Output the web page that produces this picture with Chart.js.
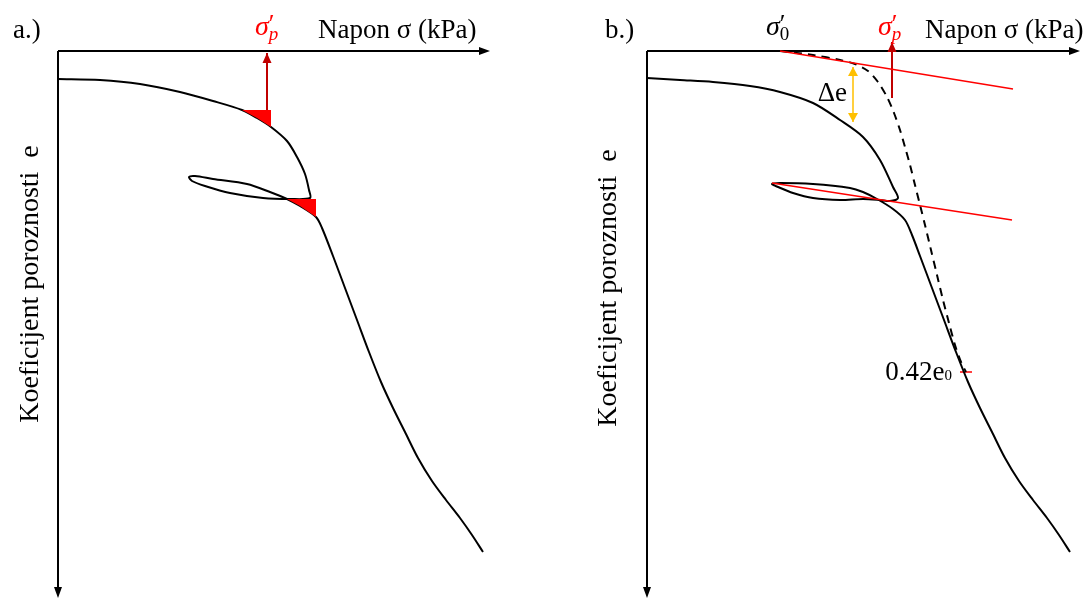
<!DOCTYPE html>
<html>
<head>
<meta charset="utf-8">
<script src="https://cdn.jsdelivr.net/npm/chart.js@4.4.1/dist/chart.umd.min.js"></script>
<style>
html, body { margin: 0; padding: 0; background: #fff; }
#wrap { position: relative; width: 1088px; height: 600px; }
#wrap canvas { position: absolute; top: 0; }
</style>
</head>
<body>
<div id="wrap">
  <canvas id="chartA" width="544" height="600" style="left:0px"></canvas>
  <canvas id="chartB" width="544" height="600" style="left:544px"></canvas>
</div>
<script>
// units: offset from the axis origin (stress to the right, void ratio drop downwards)

// panel a.)
const curveA_x = [0, 42, 82, 122, 155, 184, 199, 213, 229, 239, 247, 251, 252, 232, 205, 172, 147, 134, 131, 137,
                  155, 189, 212, 229, 242, 258, 264, 275, 287, 299, 311, 323, 335, 347, 360, 374, 388, 402, 414, 425];
const curveA_y = [28, 29, 33, 41, 50, 59, 67, 76, 90, 106, 123, 139, 147, 148, 147, 142, 135, 130, 126, 125,
                  128, 133, 141, 148, 155, 166, 177, 205, 237, 269, 301, 331, 357, 381, 407, 430, 449, 467, 484, 501];
const triA1_x = [184, 199, 213];
const triA1_y = [59, 67, 76];
const triA2_x = [229, 242, 258];
const triA2_y = [148, 155, 166];
const arrowA_x = [209, 209];
const arrowA_y = [59, 2];

// panel b.)
const curveB_x = [0, 33, 66, 103, 133, 166, 193, 216, 233, 246, 251, 243, 233, 216, 193, 166, 146, 131, 125, 133,
                  166, 203, 216, 230, 246, 258, 265, 273, 285, 297, 309, 321, 333, 345, 358, 372, 386, 400, 412, 423];
const curveB_y = [27, 29, 31, 35, 41, 52, 69, 86, 109, 136, 147, 150, 149, 148, 149, 147, 142, 136, 133, 132,
                  133, 137, 141, 148, 158, 169, 184, 205, 237, 269, 301, 331, 357, 381, 407, 430, 449, 467, 484, 501];
const dashedB_x = [133, 166, 193, 208, 221, 231, 240, 247, 253, 258, 263, 268, 273, 278, 284, 290, 296, 302, 308, 314, 319];
const dashedB_y = [0, 4, 9, 13, 20, 31, 46, 62, 79, 96, 114, 134, 154, 174, 199, 224, 249, 272, 294, 311, 321];
const tanTop_x = [133, 366];
const tanTop_y = [0, 38];
const tanLow_x = [125, 365];
const tanLow_y = [132, 169];
const arrowB_x = [245, 245];
const arrowB_y = [47, -9];
const deltaE_x = [206, 206];
const deltaE_y = [16, 71];
const tick042_x = [313, 325];
const tick042_y = [321, 321];

const xTitle = 'Napon σ (kPa)';
const yTitle = 'Koeficijent poroznosti  e';

const SERIF = '"Liberation Serif", "Times New Roman", serif';

function pts(xs, ys) {
  return xs.map((x, i) => ({ x: x, y: ys[i] }));
}

function head(ctx, fx, fy, tx, ty, len, half, color) {
  const a = Math.atan2(ty - fy, tx - fx);
  ctx.save();
  ctx.fillStyle = color;
  ctx.beginPath();
  ctx.moveTo(tx, ty);
  ctx.lineTo(tx - len * Math.cos(a) + half * Math.sin(a), ty - len * Math.sin(a) - half * Math.cos(a));
  ctx.lineTo(tx - len * Math.cos(a) - half * Math.sin(a), ty - len * Math.sin(a) + half * Math.cos(a));
  ctx.closePath();
  ctx.fill();
  ctx.restore();
}

function sigma(ctx, x, y, sub, color, subItalic) {
  ctx.save();
  ctx.fillStyle = color;
  ctx.textAlign = 'left';
  ctx.textBaseline = 'alphabetic';
  ctx.font = 'italic 28px ' + SERIF;
  ctx.fillText('σ', x, y);
  const w = ctx.measureText('σ').width;
  ctx.font = '26px ' + SERIF;
  ctx.fillText('′', x + w, y - 3);
  ctx.font = (subItalic ? 'italic ' : '') + '19px ' + SERIF;
  ctx.fillText(sub, x + w, y + 5);
  ctx.restore();
}

const axesPlugin = {
  id: 'axesPlugin',
  beforeDatasetsDraw(chart) {
    const { ctx, chartArea: ca } = chart;
    ctx.save();
    ctx.strokeStyle = '#000';
    ctx.lineWidth = 2;
    ctx.beginPath();
    ctx.moveTo(ca.left, ca.top);
    ctx.lineTo(ca.right - 6, ca.top);
    ctx.moveTo(ca.left, ca.top);
    ctx.lineTo(ca.left, ca.bottom - 6);
    ctx.stroke();
    ctx.restore();
    head(ctx, ca.left, ca.top, ca.right, ca.top, 11, 4, '#000');
    head(ctx, ca.left, ca.top, ca.left, ca.bottom, 11, 4, '#000');
  },
  afterDatasetsDraw(chart) {
    chart.data.datasets.forEach((ds, i) => {
      if (!ds.arrowHead) return;
      const el = chart.getDatasetMeta(i).data;
      const p0 = el[0], p1 = el[el.length - 1];
      head(chart.ctx, p0.x, p0.y, p1.x, p1.y, ds.headLen, ds.headHalf, ds.borderColor);
      if (ds.arrowHead === 'both') {
        head(chart.ctx, p1.x, p1.y, p0.x, p0.y, ds.headLen, ds.headHalf, ds.borderColor);
      }
    });
  },
  afterDraw(chart, args, opts) {
    const ctx = chart.ctx;
    const sx = chart.scales.x, sy = chart.scales.y;
    ctx.save();
    ctx.fillStyle = '#000';
    ctx.textBaseline = 'alphabetic';
    ctx.font = '27px ' + SERIF;
    ctx.textAlign = 'left';
    ctx.fillText(opts.panel, opts.panelX, 38);
    ctx.fillText(xTitle, opts.xTitleX, 38);
    ctx.save();
    ctx.translate(opts.yTitleX, opts.yTitleY);
    ctx.rotate(-Math.PI / 2);
    ctx.textAlign = 'center';
    ctx.font = '28px ' + SERIF;
    ctx.fillText(yTitle, 0, 0);
    ctx.restore();
    (opts.sigmas || []).forEach(s => {
      sigma(ctx, sx.getPixelForValue(s.at) + s.dx, 35, s.sub, s.color, s.italic);
    });
    if (opts.deltaE) {
      ctx.textAlign = 'right';
      ctx.font = '27px ' + SERIF;
      ctx.fillText('Δe', sx.getPixelForValue(deltaE_x[0]) - 6, sy.getPixelForValue(50));
    }
    if (opts.tickLabel) {
      const px = sx.getPixelForValue(tick042_x[0]) - 8;
      const py = sy.getPixelForValue(tick042_y[0]) + 8;
      ctx.font = '15px ' + SERIF;
      ctx.textAlign = 'right';
      ctx.fillText('0', px, py);
      const w = ctx.measureText('0').width;
      ctx.font = '27px ' + SERIF;
      ctx.fillText('0.42e', px - w, py);
    }
    ctx.restore();
  }
};

function line(xs, ys, color, width, extra) {
  return Object.assign({
    data: pts(xs, ys),
    borderColor: color,
    backgroundColor: color,
    borderWidth: width,
    pointRadius: 0,
    showLine: true,
    tension: 0,
    fill: false,
    clip: false
  }, extra || {});
}

function baseOptions(pad, xMax, labels) {
  return {
    responsive: false,
    animation: false,
    layout: { padding: pad },
    plugins: {
      legend: { display: false },
      tooltip: { enabled: false },
      axesPlugin: labels
    },
    scales: {
      x: { type: 'linear', min: 0, max: xMax, display: false },
      y: { type: 'linear', min: 0, max: 547, reverse: true, display: false }
    }
  };
}

new Chart(document.getElementById('chartA'), {
  type: 'scatter',
  data: {
    datasets: [
      line(triA1_x, triA1_y, '#ff0000', 0, { fill: { value: 59 } }),
      line(triA2_x, triA2_y, '#ff0000', 0, { fill: { value: 148 } }),
      line(curveA_x, curveA_y, '#000000', 2, { tension: 0.3 }),
      line(arrowA_x, arrowA_y, '#c00000', 2, { arrowHead: 'end', headLen: 10, headHalf: 4.5 })
    ]
  },
  options: baseOptions({ left: 58, top: 51, right: 54, bottom: 2 }, 432, {
    panel: 'a.)', panelX: 13, xTitleX: 318, yTitleX: 38, yTitleY: 284,
    sigmas: [{ at: 209, dx: -12, sub: 'p', color: '#ff0000', italic: true }]
  }),
  plugins: [axesPlugin]
});

new Chart(document.getElementById('chartB'), {
  type: 'scatter',
  data: {
    datasets: [
      line(tanTop_x, tanTop_y, '#ff0000', 1.3),
      line(tanLow_x, tanLow_y, '#ff0000', 1.3),
      line(curveB_x, curveB_y, '#000000', 2, { tension: 0.3 }),
      line(dashedB_x, dashedB_y, '#000000', 2, { tension: 0.3, borderDash: [8, 6] }),
      line(arrowB_x, arrowB_y, '#c00000', 2, { arrowHead: 'end', headLen: 10, headHalf: 4.5 }),
      line(deltaE_x, deltaE_y, '#ffc000', 1.5, { arrowHead: 'both', headLen: 9, headHalf: 5 }),
      line(tick042_x, tick042_y, '#ff0000', 1.5)
    ]
  },
  options: baseOptions({ left: 103, top: 51, right: 8, bottom: 2 }, 433, {
    panel: 'b.)', panelX: 61, xTitleX: 381, yTitleX: 72, yTitleY: 288,
    sigmas: [
      { at: 133, dx: -14, sub: '0', color: '#000000', italic: false },
      { at: 245, dx: -14, sub: 'p', color: '#ff0000', italic: true }
    ],
    deltaE: true, tickLabel: true
  }),
  plugins: [axesPlugin]
});
</script>
</body>
</html>
